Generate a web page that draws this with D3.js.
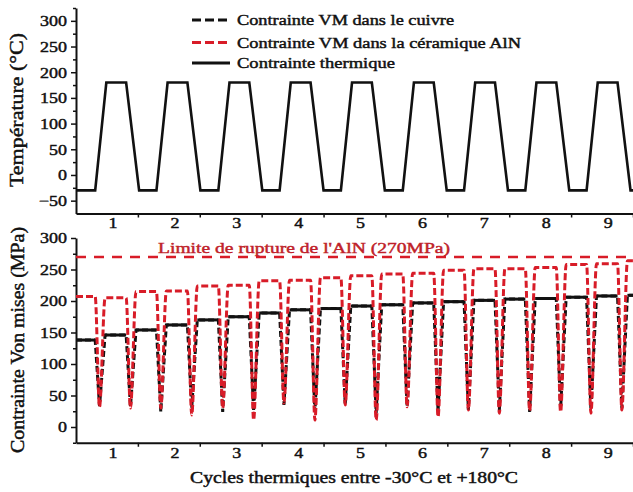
<!DOCTYPE html>
<html><head><meta charset="utf-8">
<script src="https://cdn.jsdelivr.net/npm/d3@7"></script>
<style>
body{margin:0;background:#fff}
svg{display:block}
text{font-family:'Liberation Serif','Times New Roman',serif;fill:#111;stroke:#111;stroke-width:0.45px;paint-order:stroke}
text.red{fill:#c01f2a;stroke:#c01f2a}
</style></head>
<body><svg id="c" width="633" height="492"></svg>
<script>
// ---------- data ----------
const cycleLabels = ["1","2","3","4","5","6","7","8","9"];
const cycleTicks = [1,2,3,4,5,6,7,8,9];

// temperature profile (°C) vs time (cycles)
const tempTime = [0,0.31,0.49,0.81,1.02, 1.30,1.48,1.80,2.01, 2.30,2.48,2.80,3.01,
  3.29,3.47,3.79,4.00, 4.28,4.46,4.78,4.99, 5.28,5.46,5.78,5.99, 6.27,6.45,6.77,6.98,
  7.26,7.44,7.76,7.97, 8.25,8.43,8.75,8.96, 9.0];
const tempValue = [-30,-30,180,180,-30, -30,180,180,-30, -30,180,180,-30,
  -30,180,180,-30, -30,180,180,-30, -30,180,180,-30, -30,180,180,-30,
  -30,180,180,-30, -30,180,180,-30, -30];

// Von Mises stress (MPa) vs time (cycles)
const stressTime = [0,
  0.31,0.38,0.47, 0.81,0.88,0.97,
  1.30,1.37,1.46, 1.80,1.87,1.96,
  2.30,2.37,2.46, 2.80,2.87,2.96,
  3.29,3.36,3.45, 3.79,3.86,3.95,
  4.28,4.35,4.44, 4.78,4.85,4.94,
  5.28,5.35,5.44, 5.78,5.85,5.94,
  6.27,6.34,6.43, 6.77,6.84,6.93,
  7.26,7.33,7.42, 7.76,7.83,7.92,
  8.25,8.32,8.41, 8.75,8.82,8.91,
  9.0];
const cuivreVM = [138,
  138,33,146, 146,32,154,
  154,24,162, 162,30,170,
  170,24,175, 175,25,181,
  181,35,186, 186,25,188,
  188,35,192, 192,22,194,
  194,32,197, 197,25,199,
  199,27,201, 201,26,203,
  203,24,204, 204,28,206,
  206,28,208, 208,30,209,
  209];
const alnVM = [207,
  207,32,205, 205,30,215,
  215,30,216, 216,19,224,
  224,30,225, 225,11,232,
  232,38,233, 233,11,237,
  237,35,240, 240,11,243,
  243,32,244, 244,16,249,
  249,27,251, 251,22,251,
  251,26,253, 253,24,258,
  258,22,259, 259,27,264,
  264];
const ruptureLimit = 270;

const tempTicksMajor = [-50,0,50,100,150,200,250,300];
const tempTicksMinor = [-25,25,75,125,175,225,275,325];
const stressTicksMajor = [0,50,100,150,200,250,300];
const stressTicksMinor = [-25,25,75,125,175,225,275];

// ---------- drawing ----------
const RED = "#d81c28";
const STRETCH = 1.2;
const svg = d3.select("#c");

const x = d3.scaleLinear().domain([0,9]).range([76,633]);
const yT = d3.scaleLinear().domain([-75,325]).range([213.5,8]);
const yB = d3.scaleLinear().domain([-25,300]).range([442.75,238]);

function stretchTicks(g){
  g.selectAll("text").each(function(){
    const n = this.getComputedTextLength();
    d3.select(this).attr("textLength", n*STRETCH).attr("lengthAdjust","spacingAndGlyphs");
  });
}

function drawAxes(y, yMaj, yMin, xAxisY, labelPad){
  svg.append("g").attr("transform","translate(76,0)")
    .call(d3.axisLeft(y).tickValues(yMin).tickSize(3).tickSizeOuter(0).tickFormat(""))
    .call(g=>g.select(".domain").remove())
    .call(g=>g.selectAll("line").attr("stroke","#111").attr("stroke-width",1.5));
  const gy = svg.append("g").attr("transform","translate(76,0)")
    .call(d3.axisLeft(y).tickValues(yMaj).tickSize(5).tickPadding(4).tickSizeOuter(0).tickFormat(d3.format("d")))
    .call(g=>g.select(".domain").attr("stroke","#111").attr("stroke-width",2))
    .call(g=>g.selectAll("line").attr("stroke","#111").attr("stroke-width",1.5))
    .call(g=>g.selectAll("text").attr("font-size",15).attr("font-family","'Liberation Serif',serif").attr("fill","#111"));
  stretchTicks(gy);
  svg.append("g").attr("transform",`translate(0,${xAxisY})`)
    .call(d3.axisBottom(x).tickValues(cycleTicks).tickSize(4).tickSizeOuter(0).tickFormat(""))
    .call(g=>g.select(".domain").attr("stroke","#111").attr("stroke-width",2))
    .call(g=>g.selectAll("line").attr("stroke","#111").attr("stroke-width",1.5));
  const gx = svg.append("g").attr("transform",`translate(0,${xAxisY})`)
    .call(d3.axisBottom(x).tickValues(cycleTicks.map(d=>d-0.41)).tickSize(0).tickPadding(labelPad)
      .tickFormat((d,i)=>cycleLabels[i]))
    .call(g=>g.select(".domain").remove())
    .call(g=>g.selectAll("text").attr("font-size",15).attr("font-family","'Liberation Serif',serif").attr("fill","#111"));
  stretchTicks(gx);
}

drawAxes(yT, tempTicksMajor, tempTicksMinor, 213.5, 4);
drawAxes(yB, stressTicksMajor, stressTicksMinor, 442.75, 5);

// temperature line
const tempPts = tempTime.map((t,i)=>[t,tempValue[i]]);
svg.append("path").datum(tempPts)
  .attr("d", d3.line().x(d=>x(d[0])).y(d=>yT(d[1])))
  .attr("fill","none").attr("stroke","#111").attr("stroke-width",2.6).attr("stroke-linejoin","miter");

// rupture limit
svg.append("line").attr("x1",x(0)).attr("x2",x(9)).attr("y1",yB(ruptureLimit)).attr("y2",yB(ruptureLimit))
  .attr("stroke",RED).attr("stroke-width",2.5).attr("stroke-dasharray","10,8");

const lineB = d3.line().x(d=>x(d[0])).y(d=>yB(d[1]));
const lineR = d3.line().x(d=>x(d[0])).y(d=>yB(d[1])).curve(d3.curveMonotoneX);
const cuPts = stressTime.map((t,i)=>[t,cuivreVM[i]]);
const alPts = stressTime.map((t,i)=>[t,alnVM[i]]);

// copper (black dashed, plateaus appear solid)
svg.append("path").datum(cuPts).attr("d",lineB)
  .attr("fill","none").attr("stroke","#111").attr("stroke-width",3).attr("stroke-dasharray","6,3");
const plateaus = [];
for(let i=0;i<cuPts.length-1;i++) if(cuPts[i][1]===cuPts[i+1][1]) plateaus.push([cuPts[i],cuPts[i+1]]);
svg.append("g").selectAll("path").data(plateaus).join("path").attr("d",lineB)
  .attr("fill","none").attr("stroke","#111").attr("stroke-width",3);

// AlN (red dashed)
svg.append("path").datum(alPts).attr("d",lineR)
  .attr("fill","none").attr("stroke",RED).attr("stroke-width",3).attr("stroke-dasharray","7,3");

// texts
function fitText(sel,w){ return sel.attr("textLength",w).attr("lengthAdjust","spacingAndGlyphs"); }

fitText(svg.append("text").attr("class","red").attr("x",158).attr("y",253).attr("font-size",15)
  .text("Limite de rupture de l'AlN (270MPa)"), 292);

// legend
const legend = [
  {label:"Contrainte VM dans le cuivre", color:"#111", dash:"9,4", w:217},
  {label:"Contrainte VM dans la céramique AlN", color:RED, dash:"9,4", w:284},
  {label:"Contrainte thermique", color:"#111", dash:null, w:158}
];
const legY = [20, 42.5, 63];
legend.forEach((d,i)=>{
  svg.append("line").attr("x1",192).attr("x2",230).attr("y1",legY[i]).attr("y2",legY[i])
    .attr("stroke",d.color).attr("stroke-width",3).attr("stroke-dasharray",d.dash);
  fitText(svg.append("text").attr("x",237).attr("y",legY[i]+5).attr("font-size",15).text(d.label), d.w);
});

// axis titles
fitText(svg.append("text").attr("transform","translate(23,110) rotate(-90)").attr("text-anchor","middle")
  .attr("font-size",19).text("Température (°C)"),154);
fitText(svg.append("text").attr("transform","translate(24,340) rotate(-90)").attr("text-anchor","middle")
  .attr("font-size",19).text("Contrainte Von mises (MPa)"),226);
fitText(svg.append("text").attr("x",354).attr("y",483).attr("text-anchor","middle")
  .attr("font-size",16).text("Cycles thermiques entre -30°C et +180°C"),328);
</script></body></html>
